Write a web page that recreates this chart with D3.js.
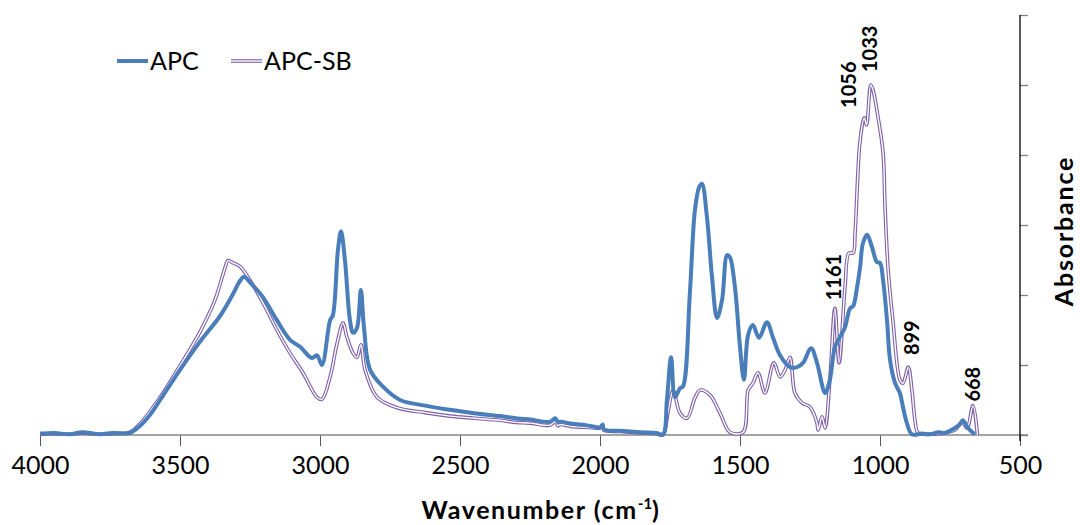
<!DOCTYPE html>
<html>
<head>
<meta charset="utf-8">
<script src="https://cdn.jsdelivr.net/npm/d3@7"></script>
<style>
  html, body { margin: 0; padding: 0; background: #fff; }
  svg { display: block; font-family: Lato, "Open Sans", sans-serif; }
</style>
</head>
<body>
<svg id="chart" width="1080" height="525"></svg>
<script>
// FTIR spectra: wavenumber (cm-1) and absorbance for each sample
const apcWave = [4000,3950,3893,3850,3786,3740,3679,3643,3607,3571,3500,3429,3357,3314,3286,3271,3250,3204,3154,3107,3071,3029,3011,2993,2964,2954,2936,2925,2911,2893,2882,2868,2854,2843,2821,2775,2714,2625,2536,2450,2357,2300,2250,2179,2160,2150,2143,2100,2050,2000,1990,1986,1930,1857,1800,1775,1761,1746,1732,1714,1704,1679,1661,1646,1636,1618,1600,1582,1564,1546,1536,1518,1500,1486,1471,1454,1432,1404,1382,1357,1321,1296,1275,1246,1225,1196,1179,1161,1143,1125,1107,1096,1082,1071,1061,1046,1029,1011,1000,989,975,964,946,929,918,904,886,850,821,790,768,750,732,715,704,686,661];
const apcAbs  = [0.002,0.003,0.001,0.004,0.001,0.003,0.003,0.013,0.029,0.050,0.093,0.133,0.170,0.199,0.220,0.226,0.218,0.197,0.164,0.136,0.126,0.110,0.114,0.100,0.164,0.171,0.264,0.291,0.250,0.164,0.146,0.153,0.207,0.154,0.093,0.069,0.050,0.042,0.036,0.031,0.027,0.024,0.022,0.019,0.024,0.018,0.019,0.016,0.014,0.011,0.015,0.008,0.006,0.004,0.003,0.001,0.050,0.111,0.054,0.067,0.069,0.203,0.321,0.354,0.359,0.311,0.226,0.167,0.193,0.257,0.254,0.211,0.126,0.079,0.143,0.157,0.139,0.161,0.139,0.114,0.097,0.097,0.103,0.124,0.103,0.060,0.079,0.126,0.140,0.154,0.181,0.184,0.211,0.240,0.274,0.286,0.269,0.247,0.246,0.221,0.164,0.107,0.074,0.060,0.040,0.017,0.001,0.002,0.001,0.004,0.003,0.006,0.010,0.015,0.021,0.010,0.001];

const sbWave = [4000,3950,3893,3850,3786,3740,3679,3643,3571,3500,3429,3375,3339,3329,3311,3286,3250,3204,3154,3107,3061,3011,2993,2964,2939,2918,2904,2882,2868,2854,2839,2796,2725,2625,2536,2450,2357,2300,2250,2179,2160,2150,2143,2100,2050,2000,1990,1986,1930,1857,1800,1775,1757,1739,1714,1689,1661,1643,1607,1571,1536,1489,1471,1454,1436,1411,1379,1357,1339,1321,1304,1279,1250,1225,1221,1207,1196,1179,1161,1146,1125,1111,1096,1089,1071,1056,1048,1033,1025,1007,989,982,971,954,929,918,899,886,875,864,820,786,760,732,707,689,668,652];
const sbAbs  = [0.001,0.002,0.001,0.003,0.001,0.002,0.004,0.016,0.054,0.099,0.147,0.193,0.239,0.249,0.246,0.241,0.221,0.189,0.150,0.117,0.089,0.054,0.051,0.083,0.131,0.160,0.140,0.117,0.111,0.129,0.093,0.054,0.039,0.032,0.027,0.024,0.021,0.018,0.017,0.014,0.019,0.013,0.015,0.012,0.011,0.010,0.013,0.007,0.005,0.003,0.002,0.000,0.033,0.064,0.031,0.024,0.053,0.064,0.057,0.031,0.004,0.004,0.064,0.074,0.089,0.060,0.103,0.083,0.093,0.111,0.060,0.046,0.040,0.017,0.007,0.026,0.010,0.079,0.181,0.103,0.211,0.260,0.260,0.289,0.421,0.453,0.443,0.500,0.493,0.454,0.403,0.326,0.236,0.164,0.079,0.074,0.097,0.064,0.021,0.003,0.001,0.002,0.004,0.007,0.019,0.010,0.042,0.000];

const seriesNames = ["APC", "APC-SB"];
const xTicks = [4000,3500,3000,2500,2000,1500,1000,500];
const yTicks = [0,0.1,0.2,0.3,0.4,0.5,0.6];
const peakLabels = ["1056","1033","1161","899","668"];

const blue = "#4a7ebb";
const purple = "#7e5fa8";

const svg = d3.select("#chart");
const x = d3.scaleLinear().domain([4000, 500]).range([40, 1020]);
const y = d3.scaleLinear().domain([0, 0.6]).range([435, 15]);

// bottom axis: gray baseline with downward ticks
const xAxis = svg.append("g").attr("transform", "translate(0,435)")
  .call(d3.axisBottom(x).tickValues(xTicks).tickSize(11).tickPadding(10).tickFormat(d3.format("d")));
xAxis.select(".domain").remove();
xAxis.selectAll(".tick line").attr("stroke", "#595959").attr("stroke-width", 1);
xAxis.selectAll(".tick text").attr("font-size", 25).attr("fill", "#000")
  .attr("font-family", "Lato, sans-serif");
svg.append("line").attr("x1", 40).attr("x2", 1028).attr("y1", 435).attr("y2", 435)
  .attr("stroke", "#868686").attr("stroke-width", 1.5);

// right-side absorbance axis without labels
const yAxis = svg.append("g").attr("transform", "translate(1020,0)")
  .call(d3.axisRight(y).tickValues(yTicks).tickSize(8).tickFormat(""));
yAxis.select(".domain").remove();
yAxis.selectAll(".tick line").attr("stroke", "#7f7f7f").attr("stroke-width", 1.3);
svg.append("line").attr("x1", 1020).attr("x2", 1020).attr("y1", 15).attr("y2", 441)
  .attr("stroke", "#000").attr("stroke-width", 1.3);

// spectra
const line = d3.line()
  .x(d => x(d[0])).y(d => y(d[1]))
  .curve(d3.curveCatmullRom.alpha(0.5));
const apcData = apcWave.map((w, i) => [w, apcAbs[i]]);
const sbData = sbWave.map((w, i) => [w, sbAbs[i]]);

// APC-SB drawn as a hollow double line
svg.append("path").datum(sbData).attr("d", line)
  .attr("fill", "none").attr("stroke", purple).attr("stroke-width", 3.6).attr("stroke-linejoin", "round");
svg.append("path").datum(sbData).attr("d", line)
  .attr("fill", "none").attr("stroke", "#fff").attr("stroke-width", 1.4).attr("stroke-linejoin", "round");

svg.append("path").datum(apcData).attr("d", line)
  .attr("fill", "none").attr("stroke", blue).attr("stroke-width", 4).attr("stroke-linejoin", "round");

// legend
const legend = svg.append("g");
legend.append("line").attr("x1", 117).attr("x2", 148).attr("y1", 61).attr("y2", 61)
  .attr("stroke", blue).attr("stroke-width", 4);
legend.append("text").attr("x", 150).attr("y", 70).attr("font-size", 25).text(seriesNames[0]);
legend.append("line").attr("x1", 231).attr("x2", 262).attr("y1", 61).attr("y2", 61)
  .attr("stroke", purple).attr("stroke-width", 3.6);
legend.append("line").attr("x1", 231).attr("x2", 262).attr("y1", 61).attr("y2", 61)
  .attr("stroke", "#fff").attr("stroke-width", 1.4);
legend.append("text").attr("x", 264).attr("y", 70).attr("font-size", 25).text(seriesNames[1]);

// peak annotations, rotated, placed above the APC-SB peaks
// [horizontal shift, gap above peak] for each label
const peakOffset = [[-16, 10], [-1, 13], [-1, 8], [4, 12], [0, 4]];
peakLabels.forEach((lab, i) => {
  const w = +lab;
  const idx = sbWave.indexOf(w);
  const px = x(w) + peakOffset[i][0], py = y(sbAbs[idx]) - peakOffset[i][1];
  svg.append("text")
    .attr("transform", `translate(${px},${py}) rotate(-90)`)
    .attr("dy", "0.36em")
    .attr("font-size", 20).attr("font-weight", "bold")
    .text(lab);
});

// axis titles
const xt = svg.append("text").attr("x", 541).attr("y", 519).attr("text-anchor", "middle")
  .attr("font-size", 25).attr("font-weight", "bold").attr("letter-spacing", 1.6);
xt.append("tspan").text("Wavenumber (cm");
xt.append("tspan").attr("font-size", 15).attr("dy", -10).attr("letter-spacing", 0).text("-1");
xt.append("tspan").attr("dy", 10).text(")");

svg.append("text").attr("transform", "translate(1064,231) rotate(-90)")
  .attr("text-anchor", "middle").attr("dy", "0.36em")
  .attr("font-size", 25).attr("font-weight", "bold").attr("letter-spacing", 1.8)
  .text("Absorbance");
</script>
</body>
</html>
